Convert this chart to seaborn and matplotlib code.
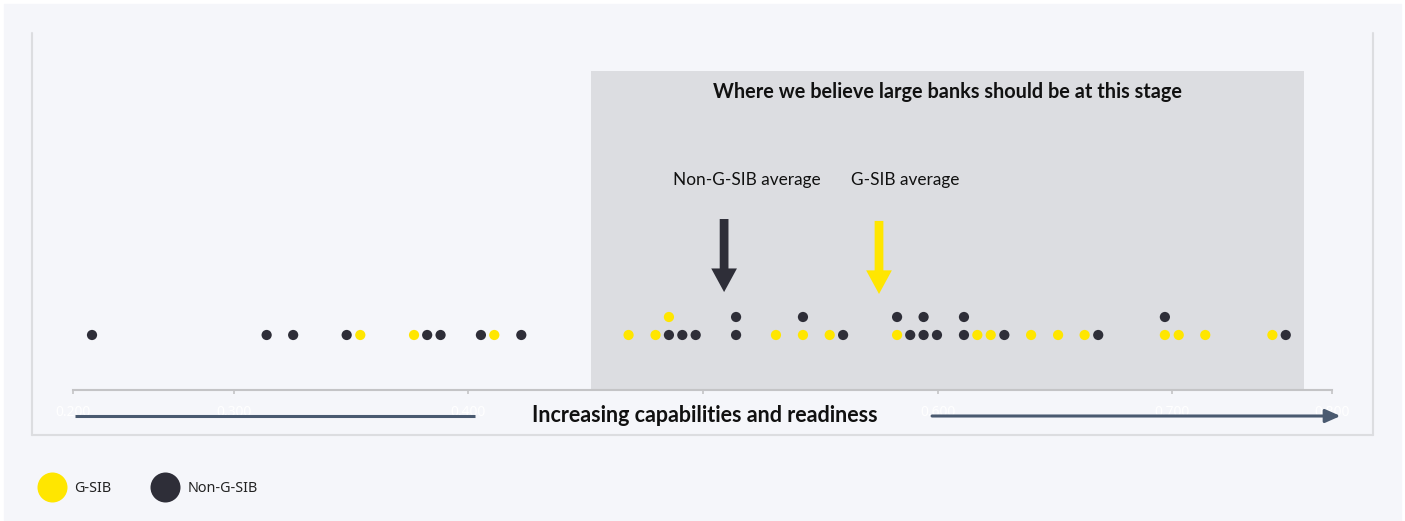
import numpy as np
import pandas as pd
import matplotlib
matplotlib.use("Agg")
import matplotlib.pyplot as plt
import seaborn as sns
from matplotlib.lines import Line2D
from matplotlib.patches import Rectangle

# ---------------- data ----------------
bank_scores = [
    0.2397, 0.3141, 0.3254, 0.3482, 0.3540, 0.3769, 0.3825, 0.3882, 0.4054, 0.4111,
    0.4226, 0.4683, 0.4798, 0.4855, 0.4855, 0.4912, 0.4969, 0.5141, 0.5141, 0.5311,
    0.5426, 0.5426, 0.5540, 0.5597, 0.5827, 0.5827, 0.5883, 0.5940, 0.5940, 0.5997,
    0.6112, 0.6112, 0.6169, 0.6226, 0.6284, 0.6398, 0.6513, 0.6626, 0.6684, 0.6968,
    0.6968, 0.7027, 0.7140, 0.7426, 0.7483,
]
bank_types = [
    "Non-G-SIB", "Non-G-SIB", "Non-G-SIB", "Non-G-SIB", "G-SIB", "G-SIB", "Non-G-SIB", "Non-G-SIB", "Non-G-SIB", "G-SIB",
    "Non-G-SIB", "G-SIB", "G-SIB", "Non-G-SIB", "G-SIB", "Non-G-SIB", "Non-G-SIB", "Non-G-SIB", "Non-G-SIB", "G-SIB",
    "G-SIB", "Non-G-SIB", "G-SIB", "Non-G-SIB", "G-SIB", "Non-G-SIB", "Non-G-SIB", "Non-G-SIB", "Non-G-SIB", "Non-G-SIB",
    "Non-G-SIB", "Non-G-SIB", "G-SIB", "G-SIB", "Non-G-SIB", "G-SIB", "G-SIB", "G-SIB", "Non-G-SIB", "G-SIB",
    "Non-G-SIB", "G-SIB", "G-SIB", "G-SIB", "Non-G-SIB",
]
non_gsib_average = 0.509
gsib_average = 0.575
target_zone = (0.4523, 0.7561)
x_range = (0.2316, 0.768)
tick_values = [0.2316, 0.3, 0.4, 0.5, 0.6, 0.7, 0.768]
tick_labels = ["0.200", "0.300", "0.400", "0.500", "0.600", "0.700", "0.800"]

# ---------------- style ----------------
YELLOW = "#FFE600"
DARK = "#2E2E38"
BG = "#F5F6FA"
ZONE = "#DCDDE1"
FRAME = "#DCDDE0"
AXIS = "#C4C4C6"
ARROW_LINE = "#4A5A70"
palette = {"G-SIB": YELLOW, "Non-G-SIB": DARK}

sns.set_theme(style="white")
plt.rcParams["font.family"] = ["Lato", "DejaVu Sans"]

W, H = 1405, 521
fig = plt.figure(figsize=(W / 100, H / 100), dpi=100, facecolor="white")


def fx(px):
    return px / W


def fy(py):
    return 1 - py / H


# panel background and frame
fig.patches.append(Rectangle((fx(4), 0), fx(1401) - fx(4), fy(4),
                             transform=fig.transFigure, color=BG, zorder=-10))
for xs, ys in [([31.5, 31.5], [33, 434.5]), ([1373, 1373], [33, 434.5]), ([31.5, 1373], [434.5, 434.5])]:
    fig.lines.append(Line2D([fx(x) for x in xs], [fy(y) for y in ys], transform=fig.transFigure,
                            color=FRAME, lw=1.5, zorder=-5))

ax = fig.add_axes([fx(73), fy(390), (1332 - 73) / W, (390 - 71) / H])
ax.set_facecolor("none")

df = pd.DataFrame({"score": bank_scores, "type": bank_types})
df["level"] = df.groupby(df["score"].round(3)).cumcount()

ax.axvspan(*target_zone, color=ZONE, lw=0, zorder=0)
sns.scatterplot(data=df, x="score", y="level", hue="type", palette=palette, s=54,
                linewidth=0, ax=ax, legend=False, zorder=3)

ax.set_xlim(*x_range)
ax.set_ylim(-3.056, 14.667)
ax.set_yticks([])
ax.set_ylabel("")
ax.set_xlabel("")
for side in ["top", "left", "right"]:
    ax.spines[side].set_visible(False)
ax.spines["bottom"].set_color(AXIS)
ax.spines["bottom"].set_linewidth(1.5)
ax.set_xticks(tick_values, tick_labels)
ax.tick_params(axis="x", direction="out", length=3, width=1.2, color=AXIS, pad=8,
               labelsize=10, labelcolor="white", bottom=True)
for t in ax.get_xticklabels():
    t.set_fontfamily(["Noto Sans", "DejaVu Sans"])
    t.set_zorder(1)

# title of target zone
ax.text(sum(target_zone) / 2, 0.934, "Where we believe large banks should be at this stage",
        transform=ax.get_xaxis_transform(), ha="center", va="center",
        fontsize=14.3, fontweight="bold", color="#111111")

# average arrows
for avg, col, y0, y1, label, tx in [
    (non_gsib_average, DARK, 0.536, 0.307, "Non-G-SIB average", 0.5187),
    (gsib_average, YELLOW, 0.530, 0.301, "G-SIB average", 0.5861),
]:
    ax.annotate("", xy=(avg, y1), xytext=(avg, y0), xycoords=ax.get_xaxis_transform(),
                textcoords=ax.get_xaxis_transform(),
                arrowprops=dict(arrowstyle="simple,head_length=17,head_width=18.5,tail_width=6.3",
                                mutation_scale=1, color=col, lw=0, shrinkA=0, shrinkB=0), zorder=4)
    ax.text(tx, 0.658, label, transform=ax.get_xaxis_transform(), ha="center", va="center",
            fontsize=12.4, color="#111111")

# bottom direction arrow with label
xt = ax.get_xaxis_transform()
ax.add_line(Line2D([0.2325, 0.4029], [-0.0815, -0.0815], transform=xt, color=ARROW_LINE,
                   lw=2.2, clip_on=False, solid_capstyle="butt"))
ax.annotate("", xy=(0.7716, -0.0815), xytext=(0.5976, -0.0815), xycoords=xt, textcoords=xt,
            arrowprops=dict(arrowstyle="-|>,head_length=0.9,head_width=0.4", color=ARROW_LINE,
                            lw=2.2, shrinkA=0, shrinkB=0, mutation_scale=10),
            annotation_clip=False)
ax.text(0.5006, -0.0815, "Increasing capabilities and readiness", transform=xt,
        ha="center", va="center", fontsize=15.5, fontweight="bold", color="#111111", zorder=5)

# legend
handles = [Line2D([], [], marker="o", ls="", markersize=21.6, markerfacecolor=palette[k],
                  markeredgewidth=0, label=k) for k in ["G-SIB", "Non-G-SIB"]]
leg = fig.legend(handles=handles, loc="center left", bbox_to_anchor=(fx(37), fy(489)), ncol=2,
                 frameon=False, borderpad=0, borderaxespad=0, handlelength=2.05,
                 handletextpad=0.55, columnspacing=2.7,
                 prop={"family": ["Noto Sans", "DejaVu Sans"], "size": 10.3})
for t in leg.get_texts():
    t.set_color("#222222")

fig.savefig("out.png", dpi=100, facecolor="white")
